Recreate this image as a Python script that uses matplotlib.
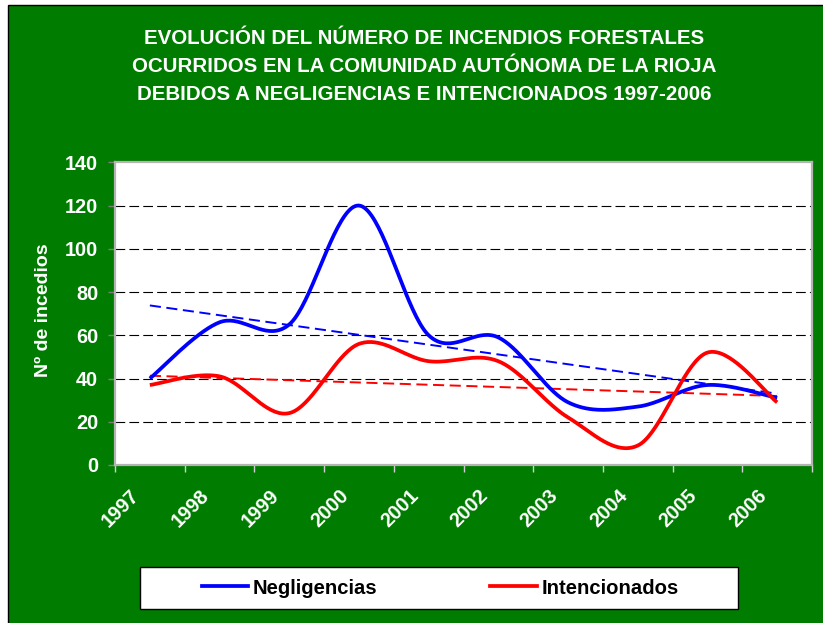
import numpy as np
import matplotlib
matplotlib.use("Agg")
import matplotlib.pyplot as plt
from matplotlib.patches import Rectangle
from matplotlib.lines import Line2D
from matplotlib.transforms import ScaledTranslation

plt.rcParams['font.family'] = ['Liberation Sans', 'DejaVu Sans']
plt.rcParams['lines.scale_dashes'] = False

years = ['1997', '1998', '1999', '2000', '2001', '2002', '2003', '2004', '2005', '2006']
negligencias = [40, 66, 65, 120, 60, 59, 29, 27, 37, 31]
intencionados = [37, 41, 24, 56, 48, 48, 22, 9, 52, 29]
title_lines = ["EVOLUCIÓN DEL NÚMERO DE INCENDIOS FORESTALES",
               "OCURRIDOS EN LA COMUNIDAD AUTÓNOMA DE LA RIOJA",
               "DEBIDOS A NEGLIGENCIAS E INTENCIONADOS 1997-2006"]
yticks = [0, 20, 40, 60, 80, 100, 120, 140]

GREEN = '#007C00'
W, H = 823, 623


def excel_smooth(y, n=40):
    y = np.asarray(y, float)
    x = np.arange(len(y), dtype=float)
    P = np.column_stack([x, y])
    P = np.vstack([P[0], P, P[-1]])
    out = []
    t = np.linspace(0, 1, n)[:, None]
    for i in range(1, len(P) - 2):
        p0, p1, p2, p3 = P[i - 1], P[i], P[i + 1], P[i + 2]
        c1 = p1 + (p2 - p0) / 6.0
        c2 = p2 - (p3 - p1) / 6.0
        seg = ((1 - t) ** 3) * p1 + 3 * ((1 - t) ** 2) * t * c1 + 3 * (1 - t) * t ** 2 * c2 + t ** 3 * p2
        out.append(seg if i == 1 else seg[1:])
    out = np.vstack(out)
    return out[:, 0], out[:, 1]


fig = plt.figure(figsize=(W / 100, H / 100), dpi=100)
fig.patch.set_facecolor('white')
fig.patches.append(Rectangle((8 / W, -0.01), 1.0, 1 - 5 / H + 0.01, transform=fig.transFigure,
                             facecolor=GREEN, edgecolor='black', linewidth=1, zorder=0))

ax = fig.add_axes([115 / W, 1 - 465 / H, (812 - 115) / W, (465 - 162.3) / H])
ax.set_facecolor('white')
ax.set_zorder(2)

x = np.arange(len(years))
for vals, col in [(negligencias, '#0000FF'), (intencionados, '#FF0000')]:
    sx, sy = excel_smooth(vals)
    ax.plot(sx, sy, color=col, lw=2.7, zorder=4, solid_capstyle='butt')
    k, b = np.polyfit(x, vals, 1)
    ax.plot(x, k * x + b, color=col, lw=1.4, dashes=(8, 4), zorder=3)

ax.set_xlim(-0.5, len(years) - 0.5)
ax.set_ylim(0, 140)
ax.set_yticks(yticks)
for yv in yticks[1:-1]:
    ax.axhline(yv, color='black', lw=0.8, dashes=(7, 3), zorder=1)

for s in ax.spines.values():
    s.set_color('#B4B4B4')
    s.set_linewidth(1.6)

ax.tick_params(axis='y', direction='out', length=5, width=1, color='#808080', pad=7,
               labelcolor='white', labelsize=14.3)
for lbl in ax.get_yticklabels():
    lbl.set_fontweight('bold')

ax.set_xticks(np.arange(-0.5, len(years)), labels=[''] * (len(years) + 1))
ax.tick_params(axis='x', which='major', direction='out', length=5, width=1, color='#D0D0D0')
ax.set_xticks(x, labels=years, minor=True)
ax.tick_params(axis='x', which='minor', length=0, pad=31, labelcolor='white', labelsize=14.3)
off = ScaledTranslation(-29 / 100, 0, fig.dpi_scale_trans)
for lbl in ax.get_xticklabels(minor=True):
    lbl.set_rotation(45)
    lbl.set_ha('center')
    lbl.set_va('center')
    lbl.set_fontweight('bold')
    lbl.set_transform(lbl.get_transform() + off)

ax.set_ylabel('Nº de incedios', color='white', fontsize=14, fontweight='bold')
ax.yaxis.set_label_coords((43 - 115) / 697, (465 - 310) / 302.7)
ax.yaxis.label.set_va('center')

for line, yc in zip(title_lines, [38.3, 66.3, 94.0]):
    fig.text(424 / W, 1 - yc / H, line, ha='center', va='center', color='white',
             fontsize=14.8, fontweight='bold')

fig.patches.append(Rectangle((140 / W, 1 - 609 / H), (738 - 140) / W, 42 / H, transform=fig.transFigure,
                             facecolor='white', edgecolor='black', linewidth=1, zorder=1))
handles = [Line2D([], [], color='#0000FF', lw=2.7), Line2D([], [], color='#FF0000', lw=2.7)]
leg = fig.legend(handles, ['Negligencias', 'Intencionados'], loc='center',
                 bbox_to_anchor=(440 / W, 1 - 588 / H), ncol=2, frameon=False,
                 prop={'size': 14.6, 'weight': 'bold'}, handlelength=2.3, handletextpad=0.2,
                 columnspacing=5.6)

fig.savefig('out.png', dpi=100, facecolor=fig.get_facecolor())
